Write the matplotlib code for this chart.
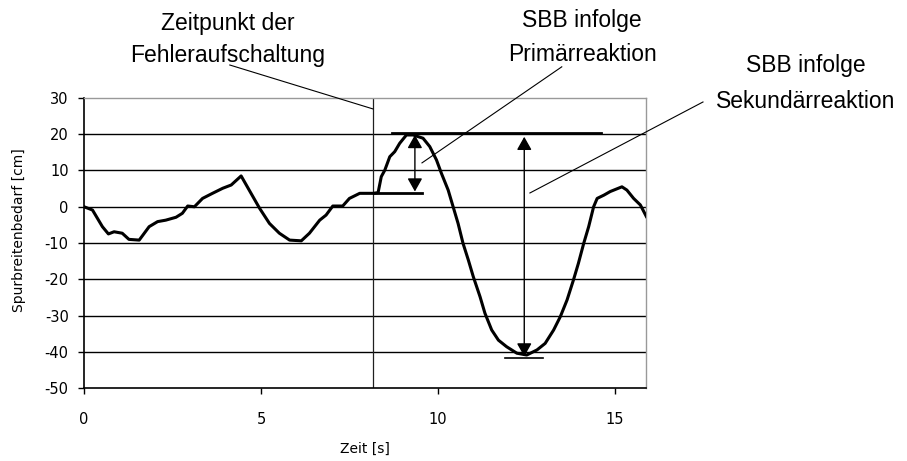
import matplotlib
matplotlib.use("Agg")
import matplotlib.pyplot as plt

# curve
zeit = [0, 0.24, 0.52, 0.69, 0.85, 1.08, 1.27, 1.56, 1.84, 2.08,
        2.31, 2.6, 2.78, 2.93, 3.12, 3.35, 3.63, 3.92, 4.16, 4.44,
        4.72, 4.96, 5.24, 5.52, 5.81, 6.14, 6.37, 6.66, 6.84, 7.03,
        7.31, 7.5, 7.79, 8.17, 8.31, 8.4, 8.5, 8.64, 8.78, 8.92,
        9.11, 9.3, 9.58, 9.77, 9.96, 10.1, 10.29, 10.43, 10.57, 10.71,
        10.86, 11.0, 11.19, 11.33, 11.52, 11.71, 11.94, 12.23, 12.51, 12.8,
        13.03, 13.27, 13.46, 13.65, 13.83, 13.97, 14.12, 14.26, 14.4, 14.5,
        14.69, 14.87, 15.2, 15.34, 15.53, 15.72, 15.89]
sbb = [0, -0.9, -5.5, -7.5, -6.9, -7.3, -9.0, -9.2, -5.5, -4.1,
       -3.7, -2.9, -1.8, 0.2, 0.0, 2.3, 3.7, 5.1, 6.0, 8.5,
       3.7, -0.4, -4.6, -7.3, -9.2, -9.4, -7.3, -3.7, -2.3, 0.2,
       0.2, 2.3, 3.7, 3.7, 3.9, 8.3, 10.1, 13.8, 15.2, 17.5,
       19.8, 19.8, 18.9, 16.6, 12.9, 9.2, 4.6, 0.0, -4.6, -10.1,
       -14.7, -19.3, -24.8, -29.4, -34.0, -36.8, -38.6, -40.4, -40.9, -39.5,
       -37.7, -34.0, -30.3, -25.7, -20.2, -15.6, -10.1, -5.5, 0.0, 2.3,
       3.2, 4.2, 5.5, 4.6, 2.3, 0.5, -2.7]

x_ticks = [0, 5, 10, 15]
y_ticks = [-50, -40, -30, -20, -10, 0, 10, 20, 30]

t_fehler = 8.16
# reference levels / ranges
ref_top = 20.4
ref_prim = 3.8
ref_min = -41.8
arrow_prim = (9.35, 19.8, 4.2)
arrow_sek = (12.44, 19.3, -41.3)

FIG_W, FIG_H = 907, 461
BIG_FONT = "Liberation Sans"
SMALL_FONT = "DejaVu Sans"

plt.rcParams["axes.unicode_minus"] = False


def px(x, y):
    # figure pixel (top-left origin) -> figure fraction
    return x / FIG_W, 1 - y / FIG_H


fig = plt.figure(figsize=(FIG_W / 100, FIG_H / 100), dpi=100)
ax = fig.add_axes([84 / FIG_W, 73 / FIG_H, 562 / FIG_W, 290 / FIG_H])

ax.set_xlim(0, 15.88)
ax.set_ylim(-50, 30)

for yv in y_ticks[1:-1]:
    ax.axhline(yv, color="black", lw=1.0, zorder=1)
ax.axvline(t_fehler, color="#202020", lw=0.9, zorder=1)

ax.plot(zeit, sbb, color="black", lw=2.2, zorder=3)

# reference lines
ax.plot([8.69, 14.6], [ref_top, ref_top], color="black", lw=2.0, zorder=4)
ax.plot([8.2, 9.55], [ref_prim, ref_prim], color="black", lw=2.0, zorder=4)
ax.plot([11.9, 12.97], [ref_min, ref_min], color="black", lw=1.2, zorder=4)

for xa, y0, y1 in (arrow_prim, arrow_sek):
    ax.annotate("", xy=(xa, y1), xytext=(xa, y0),
                arrowprops=dict(arrowstyle="<|-|>,head_length=0.8,head_width=0.45",
                                color="black", lw=1.0, shrinkA=0, shrinkB=0),
                zorder=5)

# leader lines
leaders = [((4.12, 39.1), (8.16, 27.0)),
           ((13.5, 38.6), (9.55, 12.1)),
           ((17.49, 28.9), (12.6, 3.8))]
for (xa, ya), (xb, yb) in leaders:
    ax.plot([xa, xb], [ya, yb], color="black", lw=0.8, clip_on=False, zorder=5)

for side in ("top", "right"):
    ax.spines[side].set_color("#999999")
    ax.spines[side].set_linewidth(1.0)
for side in ("left", "bottom"):
    ax.spines[side].set_color("black")
    ax.spines[side].set_linewidth(1.2)

ax.set_xticks(x_ticks)
ax.set_yticks(y_ticks)
ax.tick_params(direction="out", length=4, width=1.0, colors="black",
               labelsize=10.5)
ax.tick_params(axis="x", pad=13)
ax.tick_params(axis="y", pad=7)
for lab in ax.get_xticklabels() + ax.get_yticklabels():
    lab.set_family(SMALL_FONT)

ax.set_xlabel("Zeit [s]", family=SMALL_FONT, fontsize=10, labelpad=11)
ax.set_ylabel("Spurbreitenbedarf [cm]", family=SMALL_FONT, fontsize=10)
ax.yaxis.set_label_coords(-0.104, 0.545)

labels = [
    (228, 30, "Zeitpunkt der"), (228, 62, "Fehleraufschaltung"),
    (582, 27, "SBB infolge"), (582, 61, "Primärreaktion"),
    (806, 72, "SBB infolge"), (806, 108, "Sekundärreaktion"),
]
for x, y, s in labels:
    fx, fy = px(x, y)
    fig.text(fx, fy, s, ha="center", va="baseline", family=BIG_FONT, fontsize=16.5)

fig.savefig("out.png", dpi=100)
